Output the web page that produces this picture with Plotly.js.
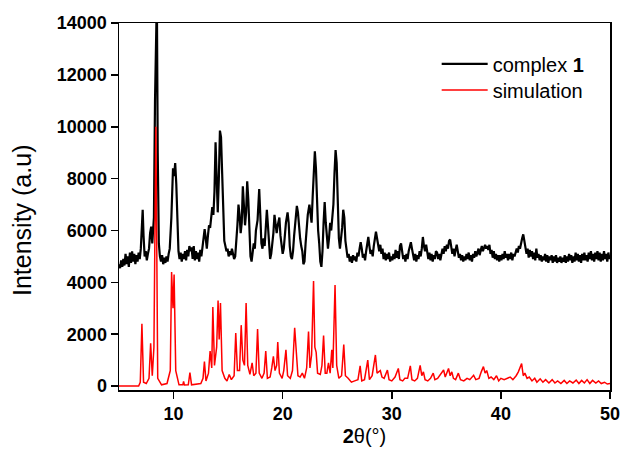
<!DOCTYPE html>
<html>
<head>
<meta charset="utf-8">
<script src="https://cdn.plot.ly/plotly-3.0.1.min.js"></script>
<style>html,body{margin:0;padding:0;background:#fff;}#chart{width:623px;height:451px;}</style>
</head>
<body>
<div id="chart"></div>
<script>
// Experimental pattern (complex 1)
const expX = [5.0,5.1,5.2,5.3,5.4,5.5,5.6,5.7,5.8,5.9,6.0,6.1,6.2,6.3,6.4,6.5,6.6,6.7,6.8,6.9,7.0,7.1,7.17,7.25,7.35,7.45,7.55,7.65,7.75,7.85,7.95,8.05,8.2,8.3,8.4,8.47,8.55,8.65,8.75,8.85,8.95,9.05,9.15,9.25,9.35,9.45,9.55,9.65,9.8,9.95,10.05,10.15,10.25,10.35,10.45,10.55,10.65,10.75,10.85,10.95,11.05,11.15,11.25,11.35,11.45,11.55,11.65,11.75,11.85,11.95,12.05,12.15,12.25,12.35,12.45,12.55,12.65,12.75,12.85,12.95,13.05,13.15,13.25,13.35,13.45,13.55,13.65,13.75,13.85,13.95,14.05,14.15,14.25,14.35,14.45,14.55,14.65,14.75,14.85,14.95,15.05,15.15,15.25,15.35,15.45,15.55,15.65,15.75,15.85,15.95,16.05,16.15,16.25,16.35,16.45,16.55,16.65,16.75,16.85,16.95,17.05,17.15,17.25,17.35,17.45,17.55,17.7,17.85,17.95,18.05,18.15,18.25,18.35,18.45,18.55,18.65,18.75,18.85,18.95,19.05,19.15,19.25,19.35,19.45,19.55,19.7,19.8,19.9,20.0,20.1,20.2,20.3,20.45,20.55,20.65,20.75,20.85,20.95,21.05,21.15,21.3,21.4,21.5,21.6,21.7,21.8,21.9,22.0,22.1,22.2,22.3,22.45,22.55,22.65,22.75,22.85,22.95,23.05,23.15,23.25,23.35,23.45,23.55,23.65,23.75,23.85,23.95,24.05,24.15,24.25,24.35,24.45,24.55,24.65,24.75,24.85,24.95,25.05,25.15,25.25,25.35,25.45,25.55,25.65,25.75,25.85,25.95,26.05,26.15,26.25,26.35,26.45,26.55,26.65,26.75,26.85,26.95,27.05,27.15,27.25,27.35,27.45,27.55,27.65,27.75,27.85,27.95,28.05,28.15,28.25,28.35,28.45,28.55,28.65,28.75,28.85,28.95,29.05,29.15,29.25,29.35,29.45,29.55,29.65,29.75,29.85,29.95,30.05,30.15,30.25,30.35,30.45,30.55,30.65,30.75,30.85,30.95,31.05,31.15,31.25,31.35,31.45,31.55,31.65,31.75,31.85,31.95,32.05,32.15,32.25,32.35,32.45,32.55,32.65,32.75,32.85,32.95,33.05,33.15,33.25,33.35,33.45,33.55,33.65,33.75,33.85,33.95,34.05,34.15,34.25,34.35,34.45,34.55,34.65,34.75,34.85,34.95,35.05,35.15,35.25,35.35,35.45,35.55,35.65,35.75,35.85,35.95,36.05,36.15,36.25,36.35,36.45,36.55,36.65,36.75,36.85,36.95,37.05,37.15,37.25,37.35,37.45,37.55,37.65,37.75,37.85,37.95,38.05,38.15,38.25,38.35,38.45,38.55,38.65,38.75,38.85,38.95,39.05,39.15,39.25,39.35,39.45,39.55,39.65,39.75,39.85,39.95,40.05,40.15,40.25,40.35,40.45,40.55,40.65,40.75,40.85,40.95,41.05,41.15,41.25,41.35,41.45,41.55,41.65,41.75,41.85,41.95,42.05,42.15,42.25,42.35,42.45,42.55,42.65,42.75,42.85,42.95,43.05,43.15,43.25,43.35,43.45,43.55,43.65,43.75,43.85,43.95,44.05,44.15,44.25,44.35,44.45,44.55,44.65,44.75,44.85,44.95,45.05,45.15,45.25,45.35,45.45,45.55,45.65,45.75,45.85,45.95,46.05,46.15,46.25,46.35,46.45,46.55,46.65,46.75,46.85,46.95,47.05,47.15,47.25,47.35,47.45,47.55,47.65,47.75,47.85,47.95,48.05,48.15,48.25,48.35,48.45,48.55,48.65,48.75,48.85,48.95,49.05,49.15,49.25,49.35,49.45,49.55,49.65,49.75,49.85,49.95,50.0];
const expY = [4700,4550,4850,4600,4900,4650,5100,4700,5000,4600,5150,4750,5200,4800,5100,4700,5050,4800,5150,4900,5300,6300,6800,5800,5000,5200,4850,5100,5300,5900,6150,5500,6500,11000,15000,15000,9000,5500,5000,4800,5050,4700,4950,4750,5000,4800,5100,5300,6500,8400,8100,8600,7800,6000,5200,4900,5150,4800,5100,4900,5200,4850,5250,5000,5400,5200,5350,4900,5400,4850,5200,4900,5150,4800,5250,5000,5300,5600,6050,5700,5300,5800,6200,6100,6400,6900,6600,7500,9400,8000,6700,8000,9850,9600,8300,6800,5600,5400,5200,5300,5000,5200,5050,5300,5100,4900,5000,5500,6200,7000,6600,5900,6300,7700,6900,6200,6700,7900,7200,5800,5000,4800,5200,5500,5300,6000,6400,7600,6600,5500,5300,5700,5400,6100,6800,6200,5300,4900,5100,5500,5900,6600,6300,5900,6200,6500,5800,5400,5100,5300,5800,6300,6700,6300,5400,5000,4900,5200,5800,6300,6950,6700,6100,5700,5400,5200,4700,4800,5500,6200,6600,7000,6500,6300,7300,8300,9050,8400,6700,6000,5500,4800,4600,5200,6300,7100,6300,5600,5300,5700,6300,6000,6500,7000,8200,9100,8600,6800,5700,5300,5600,6100,6800,6500,5600,5200,4950,5100,4800,5000,4750,5050,4850,5000,4800,5150,5000,5300,5550,5300,4950,5100,4850,5200,5500,5750,5400,5100,5250,5000,5400,5700,5950,5700,5400,5200,5450,5100,5300,4900,5150,4850,5100,4900,5150,4800,5000,4850,5100,4900,5250,4950,5200,4900,5400,5500,5200,4900,5050,4800,5100,4900,5200,5400,5550,5300,5050,4850,5100,4800,5050,4900,5200,5000,5300,5750,5400,5200,5450,5100,4900,5150,4850,5100,4800,5050,4900,5200,5150,4900,5100,4850,5150,5300,5100,5400,5200,5450,5300,5600,5650,5350,5100,5300,5000,5250,5450,5200,4950,5100,4850,5050,4800,5000,4850,5100,4900,5150,4850,5050,4800,5100,4950,5200,5000,5150,5300,5050,5250,5400,5200,5350,5450,5300,5400,5250,5450,5100,5250,4950,5200,4900,5100,4850,5050,4800,5050,4850,5100,4900,5200,4950,5100,4850,5100,4900,5150,4850,5100,5000,5200,5300,5150,5400,5300,5550,5700,5850,5600,5350,5100,5300,4950,5250,5000,5200,4900,5150,4850,5300,4950,5100,4850,5050,4800,5000,4850,5100,4800,5050,4750,5000,4850,5050,4750,5000,4800,5050,4750,4950,4800,5000,4750,4950,4800,5050,4750,5000,4800,5100,4850,5050,4750,5000,4800,5150,4850,5100,4800,5050,4750,5100,4850,5150,4850,5050,4800,5150,4900,5200,4850,5100,4800,5150,4900,5200,4850,5150,4800,5100,4850,5200,4900,5100,4800,5150,4900,5000];

// Simulated pattern
const simX = [5.0,6.8,6.95,7.1,7.25,7.5,7.75,7.9,8.05,8.2,8.38,8.55,8.9,9.4,9.7,9.82,9.95,10.05,10.2,10.5,10.85,10.92,11.0,11.35,11.5,11.65,12.5,12.7,12.83,12.97,13.2,13.35,13.5,13.6,13.75,13.95,14.08,14.18,14.3,14.45,14.7,14.9,15.1,15.3,15.55,15.7,15.85,16.05,16.2,16.35,16.5,16.65,16.8,17.0,17.2,17.35,17.55,17.7,17.85,18.1,18.3,18.45,18.6,18.85,19.0,19.15,19.3,19.45,19.55,19.7,19.95,20.1,20.3,20.45,20.7,20.9,21.1,21.25,21.4,21.6,21.8,22.0,22.2,22.37,22.5,22.65,22.83,22.95,23.07,23.2,23.45,23.6,23.75,23.9,24.05,24.2,24.35,24.5,24.6,24.8,24.95,25.15,25.4,25.6,25.75,26.0,26.3,26.6,26.9,27.1,27.25,27.5,27.8,27.95,28.2,28.5,28.65,28.95,29.1,29.3,29.6,29.75,30.0,30.3,30.6,30.75,31.0,31.2,31.45,31.7,31.85,32.1,32.35,32.6,32.75,32.9,33.05,33.3,33.55,33.8,33.95,34.2,34.45,34.75,34.9,35.2,35.35,35.5,35.65,35.85,36.1,36.3,36.6,36.9,37.15,37.5,37.7,38.0,38.2,38.4,38.55,38.7,38.9,39.1,39.35,39.6,39.8,40.0,40.3,40.6,40.85,41.1,41.4,41.6,41.9,42.05,42.2,42.4,42.6,42.85,43.1,43.3,43.6,43.85,44.1,44.4,44.7,44.95,45.2,45.5,45.8,46.05,46.3,46.6,46.9,47.15,47.4,47.65,47.9,48.15,48.4,48.7,48.95,49.2,49.5,49.75,50.0];
const simY = [0,0,150,2400,150,100,300,1650,400,1500,10000,300,50,100,600,4400,3000,4300,600,50,50,180,40,50,520,50,100,300,950,200,500,1350,700,3050,800,1500,3300,1800,3200,600,300,200,450,250,400,2050,600,600,2350,1000,800,3200,800,450,900,400,500,2200,500,300,500,1350,300,350,700,1150,600,800,1700,500,300,600,1400,400,300,600,2250,1200,400,350,500,300,700,2100,700,1200,4050,1500,1300,500,450,800,1950,500,500,900,500,1400,700,3900,800,300,400,1600,400,300,150,200,250,780,200,250,1000,250,400,1200,500,600,350,300,620,250,200,350,680,250,200,300,300,780,250,200,300,800,400,550,250,200,300,500,250,300,450,620,350,680,400,550,300,250,500,250,200,300,250,420,250,300,550,750,500,600,300,350,250,400,200,300,250,300,350,250,400,550,870,400,500,300,350,200,300,150,280,150,250,120,250,120,200,100,220,100,200,120,230,100,220,120,250,100,220,120,200,100,150,80,100];

const xTicks = [10,20,30,40,50];
const yTicks = [0,2000,4000,6000,8000,10000,12000,14000];

const FONT = 'Arial, "Liberation Sans", sans-serif';

const traces = [
  {x: expX, y: expY, type: 'scatter', mode: 'lines', name: 'complex <b>1</b>',
   line: {color: '#000000', width: 2.2}, legend: 'legend'},
  {x: simX, y: simY, type: 'scatter', mode: 'lines', name: 'simulation',
   line: {color: '#ff0000', width: 1.5}, legend: 'legend2'}
];

const legendFont = {family: FONT, size: 20, color: '#000'};

const layout = {
  width: 623, height: 451,
  margin: {l: 119, r: 13, t: 23, b: 61},
  paper_bgcolor: '#ffffff', plot_bgcolor: '#ffffff',
  font: {family: FONT, color: '#000000'},
  showlegend: true,
  legend: {x: 0.647, xanchor: 'left', y: 0.8885, yanchor: 'middle', bgcolor: 'rgba(0,0,0,0)',
           font: legendFont, itemwidth: 46},
  legend2: {x: 0.647, xanchor: 'left', y: 0.8177, yanchor: 'middle', bgcolor: 'rgba(0,0,0,0)',
           font: legendFont, itemwidth: 46},
  xaxis: {
    range: [5, 50], tickmode: 'array', tickvals: xTicks, ticktext: xTicks.map(String),
    showgrid: false, zeroline: false, showline: true, mirror: true, linecolor: '#000', linewidth: 1.5,
    ticks: 'outside', ticklen: 7, tickwidth: 1.5, tickcolor: '#000',
    tickfont: {family: FONT, size: 18, weight: 'bold', color: '#000'},
    title: {text: '<b>2</b>θ(°)', font: {family: FONT, size: 20, color: '#000'}, standoff: 6}
  },
  yaxis: {
    range: [-150, 14000], tickmode: 'array', tickvals: yTicks, ticktext: yTicks.map(String),
    showgrid: false, zeroline: false, showline: true, mirror: true, linecolor: '#000', linewidth: 1.5,
    ticks: 'outside', ticklen: 7, tickwidth: 1.5, tickcolor: '#000',
    tickfont: {family: FONT, size: 18, weight: 'bold', color: '#000'},
    title: {text: ''}
  },
  annotations: [
    {text: 'Intensity (a.u)', xref: 'paper', yref: 'paper',
     x: (22 - 119) / 491, y: 1 - (221 - 23) / 367, xanchor: 'center', yanchor: 'middle',
     textangle: -90, showarrow: false, font: {family: FONT, size: 25, color: '#000'}}
  ]
};

Plotly.newPlot('chart', traces, layout, {staticPlot: true, displayModeBar: false});
</script>
</body>
</html>
